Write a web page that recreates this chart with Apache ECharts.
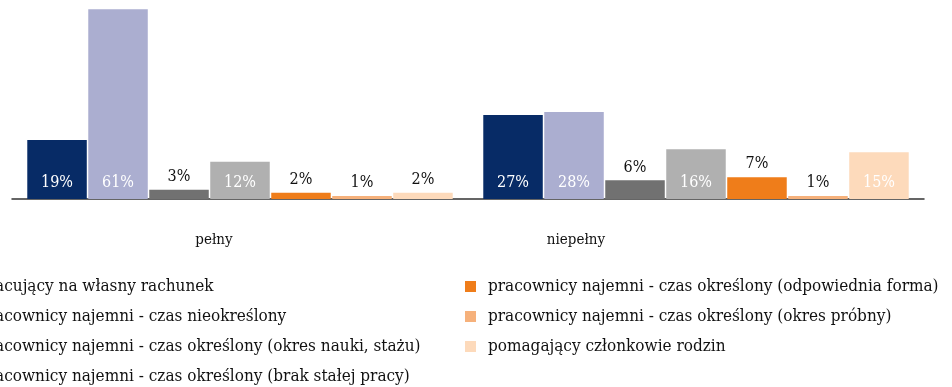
<!DOCTYPE html>
<html>
<head>
<meta charset="utf-8">
<script src="https://cdn.jsdelivr.net/npm/echarts@6/dist/echarts.min.js"></script>
<style>
  html, body { margin: 0; padding: 0; background: #fff; }
  #chart { width: 952px; height: 387px; }
</style>
</head>
<body>
<div id="chart"></div>
<script>
// Employment form by working time (share of workers, %)
const categories = ['pełny', 'niepełny'];
const seriesNames = [
  'pracujący na własny rachunek',
  'pracownicy najemni - czas nieokreślony',
  'pracownicy najemni - czas określony (okres nauki, stażu)',
  'pracownicy najemni - czas określony (brak stałej pracy)',
  'pracownicy najemni - czas określony (odpowiednia forma)',
  'pracownicy najemni - czas określony (okres próbny)',
  'pomagający członkowie rodzin'
];
const seriesColors = ['#072b66', '#abaed0', '#717171', '#b0b0b0', '#ef7d1a', '#f6b17b', '#fddabb'];
// values[i] = [pełny, niepełny] for series i
const values = [
  [19, 27],
  [61, 28],
  [3, 6],
  [12, 16],
  [2, 7],
  [1, 1],
  [2, 15]
];
// below this value the label sits above the bar in black
const insideThreshold = 10;

const FONT = '"DejaVu Serif Condensed", "DejaVu Serif", serif';

const series = seriesNames.map((name, i) => ({
  name,
  type: 'bar',
  xAxisIndex: 0,
  yAxisIndex: 0,
  barGap: '2.5%',
  barCategoryGap: '6.7%',
  itemStyle: { color: seriesColors[i] },
  data: values[i].map(v => {
    const inside = v >= insideThreshold;
    return {
      value: v,
      label: {
        show: true,
        position: inside ? 'insideBottom' : 'top',
        distance: inside ? 8 : 5,
        color: inside ? '#ffffff' : '#111111',
        fontFamily: FONT,
        fontSize: 16,
        formatter: p => p.value + '%'
      }
    };
  })
}));

const legendBase = {
  orient: 'vertical',
  icon: 'rect',
  itemWidth: 11,
  itemHeight: 11,
  itemGap: 13,
  top: 278,
  height: 160,
  padding: 0,
  textStyle: {
    fontFamily: FONT, fontSize: 17, color: '#111', lineHeight: 17,
    padding: [0, 0, 0, 7]
  },
  selectedMode: false
};

const chart = echarts.init(document.getElementById('chart'), null, { renderer: 'canvas' });
chart.setOption({
  animation: false,
  backgroundColor: '#ffffff',
  grid: [
    { left: 12, right: 28, top: 0, bottom: 188 },
    { left: 33, right: 195, top: 0, bottom: 188 }
  ],
  xAxis: [
    {
      type: 'category', gridIndex: 0, data: categories,
      axisLine: { lineStyle: { color: '#333', width: 1.5 } },
      axisTick: { show: false },
      axisLabel: { show: false }
    },
    {
      type: 'category', gridIndex: 1, data: categories,
      axisLine: { show: false },
      axisTick: { show: false },
      axisLabel: { margin: 34, fontFamily: FONT, fontSize: 15, color: '#111' }
    }
  ],
  yAxis: [
    { type: 'value', gridIndex: 0, min: 0, max: 64, show: false },
    { type: 'value', gridIndex: 1, min: 0, max: 64, show: false }
  ],
  legend: [
    Object.assign({}, legendBase, { left: -45, data: seriesNames.slice(0, 4) }),
    Object.assign({}, legendBase, { left: 465, data: seriesNames.slice(4) })
  ],
  series
});
</script>
</body>
</html>
